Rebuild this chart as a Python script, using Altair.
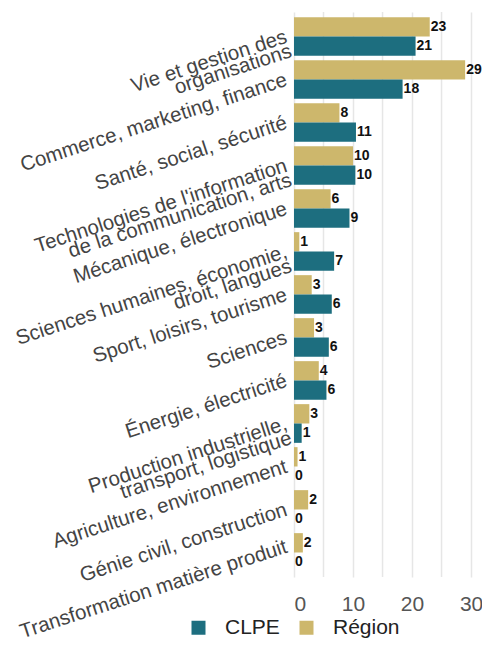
import altair as alt
import pandas as pd

categories = [
    "Vie et gestion des|organisations",
    "Commerce, marketing, finance",
    "Santé, social, sécurité",
    "Technologies de l'information|de la communication, arts",
    "Mécanique, électronique",
    "Sciences humaines, économie,|droit, langues",
    "Sport, loisirs, tourisme",
    "Sciences",
    "Énergie, électricité",
    "Production industrielle,|transport, logistique",
    "Agriculture, environnement",
    "Génie civil, construction",
    "Transformation matière produit",
]
region = [23.0, 29.0, 7.7, 10.0, 6.2, 0.9, 3.0, 3.4, 4.2, 2.6, 0.6, 2.4, 1.5]
clpe = [20.6, 18.4, 10.5, 10.4, 9.4, 6.8, 6.4, 5.9, 5.5, 1.3, 0.0, 0.0, 0.0]
series = ["CLPE", "Région"]
colors = ["#1d6e7f", "#cdb76c"]

rows = []
for c, r, p in zip(categories, region, clpe):
    rows.append({"cat": c, "serie": "Région", "val": r})
    rows.append({"cat": c, "serie": "CLPE", "val": p})
df = pd.DataFrame(rows)

font = "Liberation Sans"
xdomain = [0, 30.5]

y = alt.Y(
    "cat:N",
    sort=categories,
    scale=alt.Scale(paddingInner=0.1, paddingOuter=0.12),
    axis=alt.Axis(
        title=None,
        labelExpr="split(datum.label, '|')",
        labelAngle=-18,
        labelAlign="right",
        labelBaseline="middle",
        labelFontSize=20.5,
        labelLineHeight=15,
        labelColor="#444444",
        labelFont=font,
        labelPadding=8,
        labelOffset={
            "condition": {"test": "datum.value == 'Transformation matière produit'", "value": -6},
            "value": 0,
        },
        ticks=False,
        domain=False,
        grid=False,
        labelLimit=400,
    ),
)
yoff = alt.YOffset("serie:N", sort=["Région", "CLPE"], scale=alt.Scale(paddingInner=0, paddingOuter=0))

x = alt.X(
    "val:Q",
    scale=alt.Scale(domain=xdomain, nice=False),
    axis=alt.Axis(
        title=None,
        values=[0, 10, 20, 30],
        gridColor="#e6e6e6",
        gridWidth=1.5,
        ticks=False,
        domain=False,
        labelFontSize=21,
        labelColor="#555555",
        labelFont=font,
        labelPadding=16,
    ),
)

bars = alt.Chart(df).mark_bar().encode(
    y=y,
    yOffset=yoff,
    x=x,
    color=alt.Color(
        "serie:N",
        scale=alt.Scale(domain=series, range=colors),
        legend=alt.Legend(
            title=None,
            orient="none",
            direction="horizontal",
            legendX=-106,
            legendY=605,
            symbolType="square",
            symbolSize=196,
            symbolStrokeWidth=0,
            labelFontSize=21,
            labelFont=font,
            labelColor="#222222",
            labelOffset=16,
            columnPadding=16,
        ),
    ),
)

grid5 = alt.Chart(pd.DataFrame({"g": [5, 15, 25]})).mark_rule(color="#e6e6e6", strokeWidth=1.5).encode(
    x=alt.X("g:Q", scale=alt.Scale(domain=xdomain, nice=False))
)

labels = alt.Chart(df).mark_text(
    align="left", baseline="middle", dx=1, fontSize=14, fontWeight="bold", font=font, color="#111111"
).encode(
    y=alt.Y("cat:N", sort=categories),
    yOffset=alt.YOffset("serie:N", sort=["Région", "CLPE"]),
    x=alt.X("val:Q"),
    text=alt.Text("val:Q", format=".0f"),
)

chart = (
    alt.layer(grid5, bars, labels)
    .properties(
        width=180,
        height=565,
        autosize=alt.AutoSizeParams(type="none"),
        padding={"left": 286, "top": 4, "right": 8, "bottom": 65},
    )
    .configure_view(stroke=None)
)

chart.save("out.html", embed_options={"renderer": "svg", "actions": False})
